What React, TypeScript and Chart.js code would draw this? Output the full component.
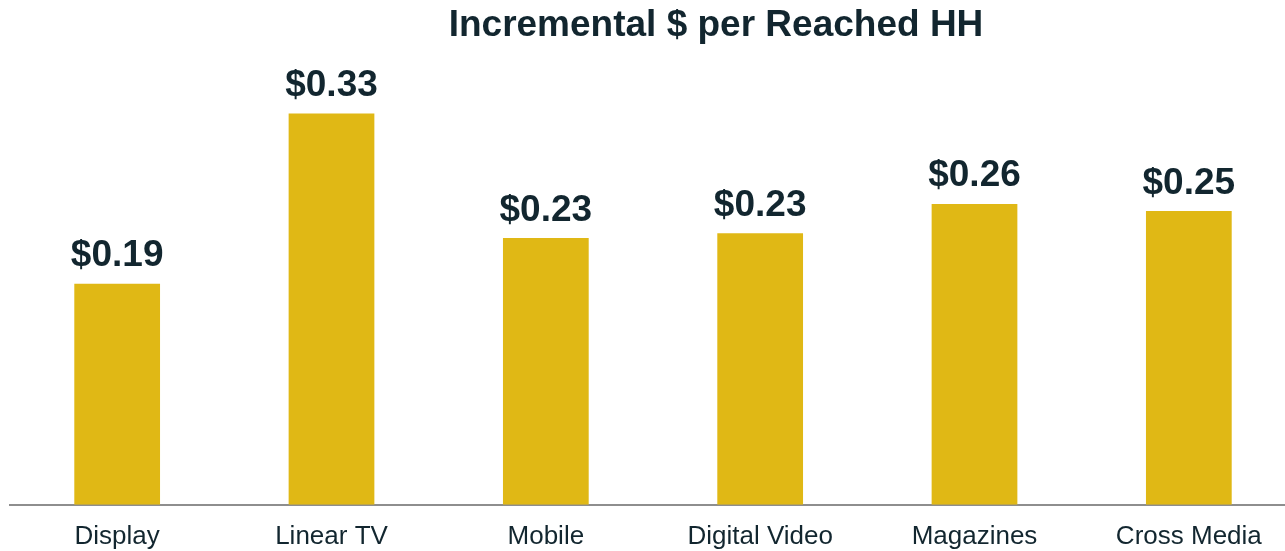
import React, { useEffect, useRef } from "react";
import { Chart, registerables } from "chart.js";

Chart.register(...registerables);

const categories = ["Display", "Linear TV", "Mobile", "Digital Video", "Magazines", "Cross Media"];
const values = [0.188, 0.333, 0.227, 0.231, 0.256, 0.25];
const titleText = "Incremental $ per Reached HH";

const BAR_COLOR = "#E0B815";
const TEXT_COLOR = "#12262F";
const FONT = "'Liberation Sans', Arial, Helvetica, sans-serif";

const valueLabelPlugin = {
  id: "valueLabels",
  afterDatasetsDraw(chart: any) {
    const ctx = chart.ctx;
    const meta = chart.getDatasetMeta(0);
    ctx.save();
    ctx.font = `bold 37px ${FONT}`;
    ctx.fillStyle = TEXT_COLOR;
    ctx.textAlign = "center";
    ctx.textBaseline = "alphabetic";
    meta.data.forEach((bar: any, i: number) => {
      const v = chart.data.datasets[0].data[i] as number;
      ctx.fillText("$" + v.toFixed(2), bar.x, bar.y - 17.5);
    });
    ctx.restore();
  },
};

const titlePlugin = {
  id: "customTitle",
  afterDraw(chart: any) {
    const ctx = chart.ctx;
    ctx.save();
    ctx.font = `bold 37px ${FONT}`;
    ctx.fillStyle = TEXT_COLOR;
    ctx.textAlign = "center";
    ctx.textBaseline = "alphabetic";
    ctx.fillText(titleText, chart.width / 2, 36);
    ctx.restore();
  },
};

export default function App() {
  const ref = useRef<HTMLCanvasElement | null>(null);
  useEffect(() => {
    if (!ref.current) return;
    const chart = new Chart(ref.current, {
      type: "bar",
      data: {
        labels: categories,
        datasets: [
          {
            data: values,
            backgroundColor: BAR_COLOR,
            borderWidth: 0,
            barPercentage: 0.4,
            categoryPercentage: 1,
          },
        ],
      },
      options: {
        responsive: false,
        animation: false,
        layout: { padding: { left: 10, right: 136, top: 60, bottom: 4 } },
        plugins: {
          legend: { display: false },
          tooltip: { enabled: false },
          title: { display: false },
        },
        scales: {
          x: {
            offset: true,
            grid: { display: false, drawTicks: false },
            border: { display: true, color: "#8E8E8E", width: 2 },
            ticks: {
              color: TEXT_COLOR,
              font: { family: FONT, size: 26 },
              padding: 16,
              maxRotation: 0,
              autoSkip: false,
            },
          },
          y: {
            display: false,
            min: 0,
            max: 0.3785,
          },
        },
      },
      plugins: [valueLabelPlugin, titlePlugin],
    });
    return () => chart.destroy();
  }, []);
  return (
    <div style={{ position: "fixed", left: 0, top: 0, width: 1285, height: 551, overflow: "hidden", background: "#fff" }}>
      <canvas ref={ref} width={1432} height={572} style={{ position: "absolute", left: 0, top: 0 }} />
    </div>
  );
}
